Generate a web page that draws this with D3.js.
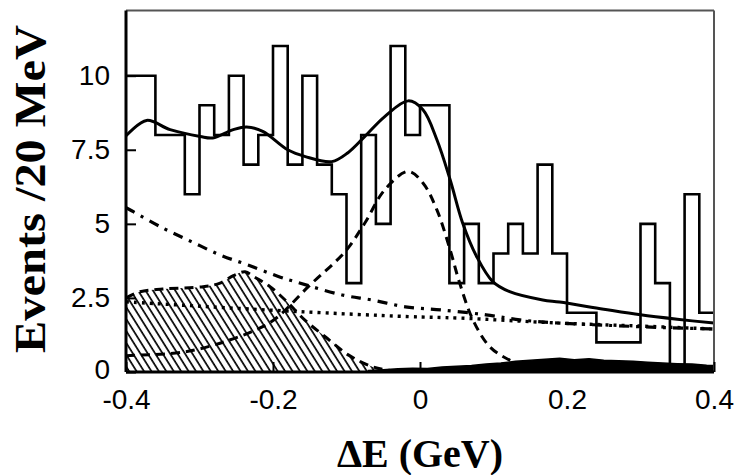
<!DOCTYPE html>
<html>
<head>
<meta charset="utf-8">
<script src="https://cdn.jsdelivr.net/npm/d3@7"></script>
<style>
  html, body { margin: 0; padding: 0; background: #fff; }
  svg { display: block; }
</style>
</head>
<body>
<svg id="chart" width="740" height="475"></svg>
<script>
// Histogram: events per 20 MeV bin in ΔE, from -0.4 to 0.4 GeV
const binStart = -0.4;
const binWidth = 0.02;
const counts = [10,10,8,8,6,9,8,10,7,8,11,7,10,7,6,3,8,5,11,8,
                9,9,3,5,3,4,5,4,7,4,2,2,1,1,1,5,3,0,6,2];

// Total fit (solid)
const totalX = [-0.4,-0.372,-0.34,-0.299,-0.282,-0.254,-0.236,-0.214,-0.18,-0.156,-0.12,-0.098,-0.075,-0.048,-0.016,0.004,0.023,0.041,0.058,0.077,0.099,0.122,0.167,0.19,0.25,0.3,0.35,0.4];
const totalY = [7.97,8.49,8.18,7.95,7.9,8.18,8.27,8.12,7.5,7.27,7.1,7.4,7.95,8.62,9.15,8.85,7.84,6.49,5.03,3.9,3.05,2.71,2.43,2.36,2.12,1.93,1.78,1.65];

// Signal component (dashed)
const signalX = [-0.4,-0.381,-0.317,-0.259,-0.214,-0.193,-0.152,-0.102,-0.075,-0.048,-0.016,0.004,0.023,0.041,0.054,0.072,0.095,0.122,0.15];
const signalY = [0.55,0.57,0.69,1.08,1.53,1.87,2.88,4.06,5.03,6.15,6.77,6.38,5.47,4.12,3.0,1.76,0.85,0.4,0.15];

// Continuum component (dash-dot)
const contX = [-0.4,-0.39,-0.35,-0.311,-0.272,-0.234,-0.19,-0.166,-0.106,-0.065,-0.02,0.03,0.09,0.136,0.19,0.26,0.33,0.4];
const contY = [5.55,5.41,4.86,4.4,3.95,3.61,3.2,3.02,2.6,2.43,2.2,2.09,1.93,1.76,1.65,1.57,1.5,1.45];

// Linear background (dotted)
const linX = [-0.4,-0.3,-0.166,-0.016,0.054,0.19,0.3,0.4];
const linY = [2.37,2.22,2.04,1.87,1.82,1.65,1.55,1.45];

// Peaking background (hatched, dashed outline)
const peakX = [-0.4,-0.381,-0.35,-0.295,-0.272,-0.254,-0.238,-0.225,-0.204,-0.181,-0.157,-0.129,-0.097,-0.065,-0.04,-0.02];
const peakY = [2.5,2.71,2.8,2.88,3.0,3.25,3.38,3.2,2.88,2.37,1.76,1.19,0.57,0.18,0.05,0.0];

// Small component near zero (dense band)
const bandX = [-0.07,-0.05,-0.03,-0.01,0.01,0.03,0.05,0.07,0.09,0.11,0.13,0.15,0.17,0.19,0.21,0.23,0.25,0.27,0.29,0.31,0.33,0.35,0.37,0.39,0.4];
const bandY = [0.05,0.08,0.11,0.13,0.12,0.17,0.19,0.22,0.27,0.3,0.36,0.4,0.43,0.46,0.41,0.45,0.4,0.38,0.36,0.33,0.3,0.28,0.27,0.23,0.22];

const xTicks = [-0.4,-0.2,0,0.2,0.4];
const xTickLabels = ["-0.4","-0.2","0","0.2","0.4"];
const yTicks = [0,2.5,5,7.5,10];
const yTickLabels = ["0","2.5","5","7.5","10"];

const svg = d3.select("#chart");
const plotLeft = 126, plotRight = 714, plotTop = 10.5, plotBottom = 372;

const x = d3.scaleLinear().domain([-0.4, 0.4]).range([plotLeft, plotRight]);
const y = d3.scaleLinear().domain([0, 12.2]).range([plotBottom, plotTop]);

// Hatch pattern for the peaking background
const defs = svg.append("defs");
const pat = defs.append("pattern")
  .attr("id", "hatch")
  .attr("patternUnits", "userSpaceOnUse")
  .attr("width", 6.3).attr("height", 20)
  .attr("patternTransform", "rotate(-32)");
pat.append("line")
  .attr("x1", 1).attr("y1", 0).attr("x2", 1).attr("y2", 20)
  .attr("stroke", "#000").attr("stroke-width", 1.7);

const clip = defs.append("clipPath").attr("id", "plotclip");
clip.append("rect").attr("x", plotLeft).attr("y", plotTop)
  .attr("width", plotRight - plotLeft).attr("height", plotBottom - plotTop);

const g = svg.append("g").attr("clip-path", "url(#plotclip)");

const zip = (xs, ys) => xs.map((v, i) => [v, ys[i]]);

// Hatched area
const peakPts = zip(peakX, peakY);
g.append("path")
  .datum(peakPts)
  .attr("fill", "url(#hatch)")
  .attr("d", d3.area().x(d => x(d[0])).y0(y(0)).y1(d => y(d[1])).curve(d3.curveCatmullRom));

// Dense band near the axis
g.append("path")
  .datum(zip(bandX, bandY))
  .attr("fill", "#000")
  .attr("stroke", "#000")
  .attr("stroke-width", 1.5)
  .attr("d", d3.area().x(d => x(d[0])).y0(y(0)).y1(d => y(d[1])));

// Histogram as a step outline
const histPts = counts.map((c, i) => [binStart + i * binWidth, c]);
histPts.push([binStart + counts.length * binWidth, counts[counts.length - 1]]);
g.append("path")
  .datum(histPts)
  .attr("fill", "none")
  .attr("stroke", "#000")
  .attr("stroke-width", 2.6)
  .attr("d", d3.line().x(d => x(d[0])).y(d => y(d[1])).curve(d3.curveStepAfter));

const smooth = d3.line().x(d => x(d[0])).y(d => y(d[1])).curve(d3.curveCatmullRom);

// Peaking background outline
g.append("path").datum(peakPts)
  .attr("fill", "none").attr("stroke", "#000").attr("stroke-width", 3)
  .attr("stroke-dasharray", "9,6")
  .attr("d", smooth);

// Linear background (dotted)
g.append("path").datum(zip(linX, linY))
  .attr("fill", "none").attr("stroke", "#000").attr("stroke-width", 3.4)
  .attr("stroke-dasharray", "3,5")
  .attr("d", smooth);

// Continuum (dash-dot)
g.append("path").datum(zip(contX, contY))
  .attr("fill", "none").attr("stroke", "#000").attr("stroke-width", 3.2)
  .attr("stroke-dasharray", "10,7,3,7")
  .attr("d", smooth);

// Signal (dashed)
g.append("path").datum(zip(signalX, signalY))
  .attr("fill", "none").attr("stroke", "#000").attr("stroke-width", 3)
  .attr("stroke-dasharray", "9,6")
  .attr("d", smooth);

// Total fit (solid)
g.append("path").datum(zip(totalX, totalY))
  .attr("fill", "none").attr("stroke", "#000").attr("stroke-width", 3)
  .attr("d", smooth);

// Frame: top and right thin grey, left and bottom heavy black
svg.append("line").attr("x1", plotLeft).attr("x2", plotRight).attr("y1", plotTop).attr("y2", plotTop)
  .attr("stroke", "#555").attr("stroke-width", 2);
svg.append("line").attr("x1", plotRight).attr("x2", plotRight).attr("y1", plotTop).attr("y2", plotBottom)
  .attr("stroke", "#555").attr("stroke-width", 2);

// Axes with inward ticks
const xAxis = d3.axisBottom(x).tickValues(xTicks)
  .tickFormat((d, i) => xTickLabels[i]).tickSize(-10).tickPadding(17);
const yAxis = d3.axisLeft(y).tickValues(yTicks)
  .tickFormat((d, i) => yTickLabels[i]).tickSize(-10).tickPadding(16);

const gx = svg.append("g").attr("transform", `translate(0,${plotBottom})`).call(xAxis);
const gy = svg.append("g").attr("transform", `translate(${plotLeft},0)`).call(yAxis);

[gx, gy].forEach(a => {
  a.select(".domain").attr("stroke", "#000").attr("stroke-width", 3);
  a.selectAll(".tick line").attr("stroke", "#000").attr("stroke-width", 2);
  a.selectAll(".tick text")
    .attr("fill", "#000")
    .style("font-family", "'Liberation Sans', Arial, sans-serif")
    .style("font-size", "28px");
});
gx.select(".domain").attr("d", `M${plotLeft},0H${plotRight}`);
gy.select(".domain").attr("d", `M0,${plotTop}V${plotBottom}`);
// The zero label sits just above the bottom edge
gy.selectAll(".tick text").filter(d => d === 0).attr("dy", "0.22em");

// Axis titles
svg.append("text")
  .attr("transform", "translate(45,189) rotate(-90)")
  .attr("text-anchor", "middle")
  .attr("textLength", 328)
  .attr("lengthAdjust", "spacingAndGlyphs")
  .style("font-family", "'Liberation Serif', 'Times New Roman', serif")
  .style("font-weight", "bold")
  .style("font-size", "45px")
  .text("Events /20 MeV");

svg.append("text")
  .attr("x", 420).attr("y", 467)
  .attr("text-anchor", "middle")
  .style("font-family", "'Liberation Serif', 'Times New Roman', serif")
  .style("font-weight", "bold")
  .style("font-size", "40px")
  .text("ΔE (GeV)");
</script>
</body>
</html>
